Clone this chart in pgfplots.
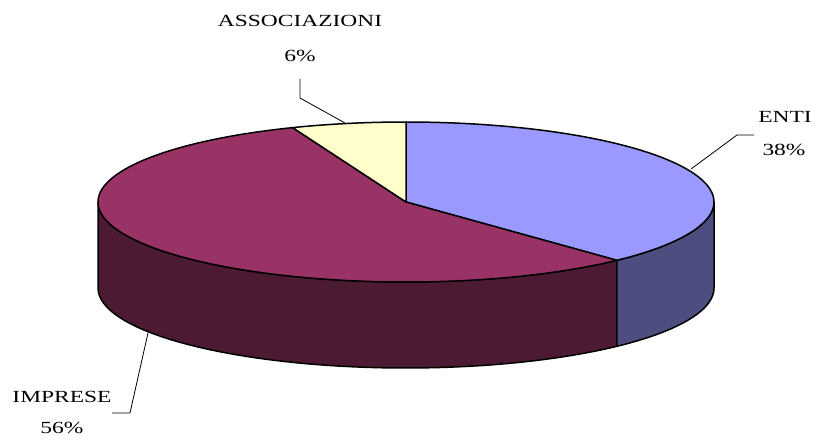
\documentclass[border=0pt]{standalone}
\usepackage{fontspec}
\setmainfont{Liberation Serif}
\usepackage{pgfplots}
\pgfplotsset{compat=1.18}
\definecolor{entiTop}{HTML}{9999FF}
\definecolor{entiSide}{HTML}{4D4D80}
\definecolor{impTop}{HTML}{993366}
\definecolor{impSide}{HTML}{4D1A33}
\definecolor{assTop}{HTML}{FFFFCC}
\begin{document}
\begin{tikzpicture}
% shares (percent)
\def\pE{38}\def\pI{56}\def\pA{6}
% geometry of the pie (pixels of the picture)
\def\cx{406}\def\cy{202}\def\rx{308}\def\ry{80}\def\dd{86}
\pgfmathsetmacro{\aE}{90-3.6*\pE}      % end of ENTI
\pgfmathsetmacro{\aI}{\aE-3.6*\pI}     % end of IMPRESE
\pgfmathsetmacro{\aIb}{\aI+360}
\begin{axis}[width=817pt,height=444pt,scale only axis,
  xmin=0,xmax=817,ymin=0,ymax=444,y dir=reverse,
  hide axis,clip=false,no markers,
  every axis plot/.append style={line width=1.5pt,line join=round}]
% side faces
\addplot[fill=impSide,draw=black,domain=0:3,samples=151,variable=\t]
  ({\cx+\rx*cos(180+(\aE+360-180)*min(\t,1,3-\t))},
   {\cy-\ry*sin(180+(\aE+360-180)*min(\t,1,3-\t))+\dd*min(max(\t-1,0),1)}) -- cycle;
\addplot[fill=entiSide,draw=black,domain=0:3,samples=151,variable=\t]
  ({\cx+\rx*cos(\aE+360+(360-\aE-360)*min(\t,1,3-\t))},
   {\cy-\ry*sin(\aE+360+(360-\aE-360)*min(\t,1,3-\t))+\dd*min(max(\t-1,0),1)}) -- cycle;
% top faces
\addplot[fill=entiTop,draw=black,domain=\aE:90,samples=80]
  ({\cx+\rx*cos(x)},{\cy-\ry*sin(x)}) -- (axis cs:\cx,\cy) -- cycle;
\addplot[fill=impTop,draw=black,domain=\aIb:\aE+360,samples=120]
  ({\cx+\rx*cos(x)},{\cy-\ry*sin(x)}) -- (axis cs:\cx,\cy) -- cycle;
\addplot[fill=assTop,draw=black,domain=90:\aIb,samples=20]
  ({\cx+\rx*cos(x)},{\cy-\ry*sin(x)}) -- (axis cs:\cx,\cy) -- cycle;
% leader lines
\addplot[black,line width=0.8pt] coordinates {(300,79) (300,98) (345,123)};
\addplot[black,line width=0.8pt] coordinates {(754,135) (737,135) (691,169)};
\addplot[black,line width=0.8pt] coordinates {(112,413) (130,413) (148,333)};
% labels
\begin{scope}[every node/.style={anchor=base,inner sep=0pt,font=\fontsize{17}{20}\selectfont}]
\node at (axis cs:300,27) {\scalebox{1.38}[1]{ASSOCIAZIONI}};
\node at (axis cs:300,62) {\scalebox{1.38}[1]{\pA\%}};
\node at (axis cs:785,122) {\scalebox{1.38}[1]{ENTI}};
\node at (axis cs:784,155) {\scalebox{1.38}[1]{\pE\%}};
\node at (axis cs:62,402) {\scalebox{1.38}[1]{IMPRESE}};
\node at (axis cs:62,433) {\scalebox{1.38}[1]{\pI\%}};
\end{scope}
\end{axis}
\path (current axis.south west) rectangle (current axis.north east);
\end{tikzpicture}
\end{document}
